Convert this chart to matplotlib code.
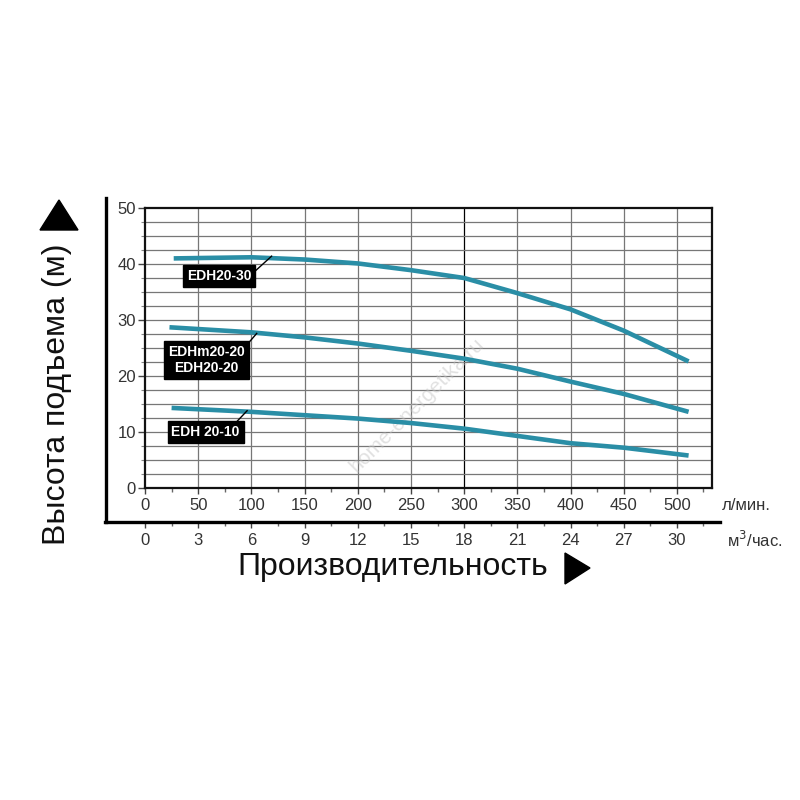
import numpy as np
import matplotlib
matplotlib.use('Agg')
import matplotlib.pyplot as plt
from matplotlib.lines import Line2D
from matplotlib.patches import Polygon
from matplotlib.ticker import MultipleLocator, FixedLocator

plt.rcParams['font.family'] = ['Liberation Sans', 'DejaVu Sans']

# flow, l/min
q_30 = [27, 100, 150, 200, 250, 300, 350, 400, 450, 511]
h_30 = [41.0, 41.2, 40.8, 40.1, 38.9, 37.5, 34.8, 31.9, 28.1, 22.6]

q_20 = [23, 100, 150, 200, 250, 300, 350, 400, 450, 511]
h_20 = [28.7, 27.8, 26.9, 25.8, 24.5, 23.1, 21.3, 19.0, 16.8, 13.6]

q_10 = [25, 100, 150, 200, 250, 300, 350, 400, 450, 511]
h_10 = [14.3, 13.6, 13.0, 12.4, 11.6, 10.6, 9.3, 8.0, 7.2, 5.8]

lpm_ticks = list(range(0, 501, 50))
m3h_ticks = list(range(0, 31, 3))
h_ticks = list(range(0, 51, 10))

# label boxes: text, box centre, leader start, leader end
labels = [
    ('EDH20-30', (69.5, 37.9), (101, 38.3), (119, 41.4)),
    ('EDHm20-20\nEDH20-20', (58, 22.9), (95, 25.4), (105, 27.6)),
    ('EDH 20-10', (57, 10.0), (87, 12.0), (96, 13.8)),
]

line_col = '#2a8ea6'
W = 800.0

fig = plt.figure(figsize=(8, 8), dpi=100)
ax = fig.add_axes([145 / W, 1 - 488 / W, 567 / W, 280 / W])
ax.set_xlim(0, 533)
ax.set_ylim(0, 50)

for q, h in [(q_30, h_30), (q_20, h_20), (q_10, h_10)]:
    ax.plot(q, h, color=line_col, lw=3.3, solid_capstyle='butt',
            solid_joinstyle='round', zorder=3)

ax.xaxis.set_major_locator(FixedLocator(lpm_ticks))
ax.xaxis.set_minor_locator(MultipleLocator(25))
ax.yaxis.set_major_locator(FixedLocator(h_ticks))
ax.yaxis.set_minor_locator(MultipleLocator(2.5))
ax.tick_params(axis='both', which='major', direction='out', labelsize=12,
               labelcolor='#333333', color='#444444')
ax.tick_params(axis='x', which='major', length=4, width=1, pad=3)
ax.tick_params(axis='x', which='minor', length=3, width=1, color='#666666')
ax.tick_params(axis='y', which='major', length=5, width=1, pad=1.5)
ax.tick_params(axis='y', which='minor', length=3, width=0.8, color='#888888')

for x in lpm_ticks[1:]:
    ax.axvline(x, color='black' if x == 300 else '#777777', lw=0.9, zorder=1)
for y in np.arange(2.5, 50, 2.5):
    ax.axhline(y, color='#777777', lw=0.9, zorder=1)

for s in ax.spines.values():
    s.set_linewidth(1.6)
    s.set_color('#111111')

# second scale, m3/h
sec = ax.secondary_xaxis(-34 / 280.0, functions=(lambda v: v * 0.06, lambda v: v / 0.06))
sec.xaxis.set_major_locator(FixedLocator(m3h_ticks))
sec.xaxis.set_minor_locator(MultipleLocator(1.5))
sec.spines['bottom'].set_visible(False)
sec.tick_params(which='major', length=4, width=1, pad=4, labelsize=12,
                labelcolor='#333333', color='#444444')
sec.tick_params(which='minor', length=3, width=1, color='#666666')

for txt, c, p0, p1 in labels:
    ax.text(c[0], c[1], txt, ha='center', va='center', color='white',
            fontsize=10, fontweight='bold', linespacing=1.2, zorder=5,
            bbox=dict(boxstyle='square,pad=0.28', fc='black', ec='black'))
    ax.plot([p0[0], p1[0]], [p0[1], p1[1]], color='black', lw=1, zorder=4)

ax.text(256, 14.8, 'home-energetika.ru', rotation=45, ha='center', va='center',
        fontsize=15, color='#c4c4c4', alpha=0.5, zorder=2)

# outer frame
fig.add_artist(Line2D([106 / W, 106 / W], [1 - 198 / W, 1 - 522 / W],
                      color='black', lw=2.4, transform=fig.transFigure))
fig.add_artist(Line2D([105 / W, 720 / W], [1 - 522 / W, 1 - 522 / W],
                      color='black', lw=2.4, transform=fig.transFigure))

fig.text(722 / W, 1 - 505 / W, 'л/мин.', fontsize=12, color='#333333', va='center')
fig.text(727 / W, 1 - 540 / W, 'м$^3$/час.', fontsize=12, color='#333333', va='center')

fig.text(57 / W, 1 - 394 / W, 'Высота подъема (м)', rotation=90, fontsize=23,
         ha='center', va='center', color='#111111')
fig.text(393 / W, 1 - 567 / W, 'Производительность', fontsize=23,
         ha='center', va='center', color='#111111')

tri_up = [(40, 230), (78, 230), (59, 200)]
tri_right = [(565, 553), (565, 584), (590, 568)]
for tri in (tri_up, tri_right):
    fig.add_artist(Polygon([(x / W, 1 - y / W) for x, y in tri], closed=True,
                           fc='black', ec='black', transform=fig.transFigure))

fig.savefig('out.png', dpi=100, facecolor='white')
